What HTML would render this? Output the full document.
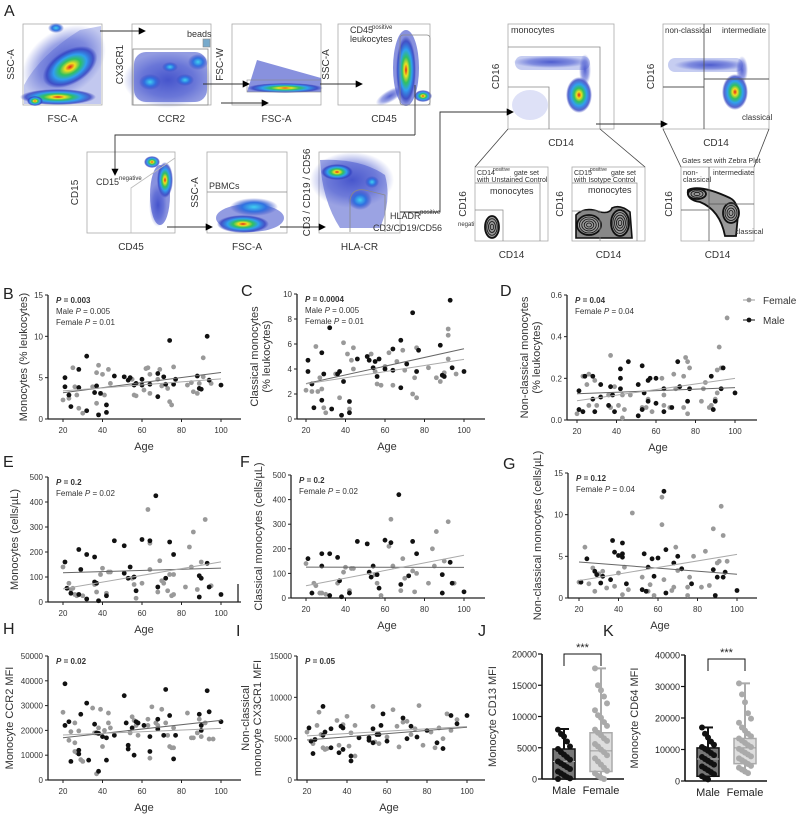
<!DOCTYPE html>
<html><head><meta charset="utf-8">
<style>
html,body{margin:0;padding:0;background:#fff;}
svg{display:block;font-family:"Liberation Sans",Arial,sans-serif;}
</style></head>
<body>
<svg id="fig" width="798" height="816" viewBox="0 0 798 816" xmlns="http://www.w3.org/2000/svg">
<defs>
<radialGradient id="heat" cx="50%" cy="50%" r="50%">
<stop offset="0" stop-color="#e0201a"/><stop offset="0.18" stop-color="#f0e020"/><stop offset="0.38" stop-color="#30c060"/><stop offset="0.6" stop-color="#30a0f0"/><stop offset="0.85" stop-color="#3040c0" stop-opacity="0.8"/><stop offset="1" stop-color="#3040c0" stop-opacity="0"/>
</radialGradient>
<radialGradient id="cool" cx="50%" cy="50%" r="50%">
<stop offset="0" stop-color="#40d0f0"/><stop offset="0.5" stop-color="#3070e0"/><stop offset="1" stop-color="#3040c0" stop-opacity="0"/>
</radialGradient>
<radialGradient id="haze" cx="50%" cy="50%" r="50%">
<stop offset="0" stop-color="#3848c8" stop-opacity="0.85"/><stop offset="0.6" stop-color="#4858d0" stop-opacity="0.55"/><stop offset="1" stop-color="#5060d0" stop-opacity="0"/>
</radialGradient>
<marker id="arr" markerWidth="8" markerHeight="8" refX="7" refY="4" orient="auto"><path d="M0,0 L8,4 L0,8 z" fill="#000"/></marker>
</defs>
<g id="panelA"></g>
<g id="charts"></g>
</svg>
<script>
// ---------- data ----------
const bMale=[[21,3.9],[21,5.0],[23,2.9],[24,1.5],[28,3.8],[28,6.0],[32,1.0],[32,7.6],[36,3.2],[37,4.0],[38,0.5],[39,3.1],[42,1.7],[42,0.8],[46,5.2],[51,5.1],[53,4.7],[54,5.0],[56,4.1],[57,4.3],[60,4.8],[60,4.1],[64,4.2],[68,2.7],[68,5.5],[71,5.1],[72,4.2],[74,9.5],[76,4.2],[77,4.8],[88,5.2],[89,3.7],[90,3.6],[93,10.0],[94,4.7],[100,4.1]];
const bFemale=[[20,2.3],[23,2.9],[23,2.5],[25,6.2],[26,3.9],[27,2.9],[28,1.3],[30,0.7],[35,3.9],[37,5.6],[37,1.9],[38,6.5],[40,5.4],[41,2.9],[43,6.0],[44,4.3],[55,4.8],[56,2.9],[57,2.8],[61,3.5],[62,6.1],[63,6.2],[64,5.4],[64,3.1],[68,4.8],[69,6.0],[70,4.0],[73,3.7],[74,2.1],[75,1.7],[76,6.3],[83,4.1],[85,4.4],[86,3.3],[88,3.1],[89,4.3],[91,7.4],[91,5.1],[95,4.3]];
const cMale=[[21,4.7],[21,3.8],[23,2.8],[24,0.9],[28,5.3],[28,1.5],[29,3.6],[32,7.3],[33,0.8],[36,3.6],[37,3.8],[38,0.3],[39,3.0],[42,1.4],[42,0.5],[46,4.8],[51,5.0],[52,4.7],[54,4.1],[55,4.6],[56,3.4],[57,4.8],[60,4.0],[64,5.6],[64,3.9],[68,6.3],[68,2.5],[71,4.4],[74,8.5],[76,3.8],[77,5.5],[88,5.9],[89,3.5],[90,3.4],[93,9.5],[94,4.1],[100,3.8]];
const cFemale=[[20,2.3],[23,2.2],[25,5.8],[26,2.2],[27,3.3],[28,2.4],[29,0.9],[30,0.5],[35,3.6],[37,1.7],[39,6.1],[41,5.2],[42,0.8],[43,4.7],[44,5.7],[44,4.0],[53,5.2],[55,3.8],[56,2.8],[58,2.7],[60,4.2],[62,5.3],[64,2.7],[66,4.6],[69,5.5],[70,3.9],[74,2.0],[75,3.3],[76,1.7],[76,5.7],[82,4.1],[86,3.3],[88,3.0],[90,3.7],[92,7.2],[92,6.7],[92,4.8],[96,3.6]];
const dMale=[[21,0.14],[21,0.05],[23,0.04],[24,0.21],[28,0.21],[28,0.10],[29,0.04],[32,0.17],[32,0.11],[36,0.07],[37,0.16],[38,0.12],[39,0.04],[42,0.245],[42,0.20],[42,0.15],[46,0.28],[51,0.02],[51,0.17],[53,0.05],[53,0.26],[54,0.13],[56,0.09],[56,0.19],[57,0.20],[60,0.20],[60,0.08],[64,0.15],[64,0.04],[68,0.06],[71,0.28],[72,0.16],[76,0.09],[77,0.15],[88,0.21],[89,0.05],[90,0.09],[93,0.15],[94,0.25],[100,0.13]];
const dFemale=[[20,0.03],[23,0.21],[25,0.17],[26,0.22],[26,0.07],[29,0.19],[30,0.07],[36,0.12],[37,0.31],[37,0.06],[39,0.16],[41,0.07],[43,0.12],[43,0.01],[44,0.05],[47,0.12],[53,0.06],[55,0.06],[56,0.10],[58,0.04],[63,0.20],[64,0.12],[64,0.07],[67,0.06],[69,0.22],[70,0.15],[74,0.21],[74,0.06],[75,0.30],[76,0.28],[76,0.03],[77,0.25],[83,0.09],[84,0.15],[85,0.18],[87,0.06],[88,0.07],[90,0.10],[91,0.24],[91,0.13],[92,0.35],[93,0.25],[96,0.49]];
const eMale=[[21,160],[22,55],[24,35],[28,210],[28,30],[29,130],[32,190],[32,12],[36,180],[36,80],[37,75],[38,5],[42,25],[46,245],[51,225],[51,115],[53,95],[54,140],[56,100],[57,45],[60,250],[64,245],[67,425],[68,60],[72,95],[74,240],[76,190],[89,20],[89,105],[90,95],[93,155],[94,60],[100,30]];
const eFemale=[[20,140],[23,75],[24,50],[25,55],[26,30],[27,25],[28,30],[30,25],[36,70],[37,40],[39,110],[40,135],[42,35],[43,120],[44,120],[55,95],[56,70],[57,15],[60,75],[63,370],[64,235],[64,130],[68,40],[69,165],[70,85],[71,75],[73,45],[74,110],[75,25],[76,30],[76,110],[82,60],[84,220],[85,140],[86,280],[88,50],[90,160],[92,330],[95,65]];
const fMale=[[21,160],[23,20],[28,180],[28,130],[32,180],[32,10],[36,165],[37,70],[38,5],[42,20],[46,230],[51,220],[52,105],[53,85],[54,130],[56,95],[57,40],[60,235],[63,225],[67,420],[68,55],[72,90],[74,230],[76,180],[89,20],[89,95],[93,145],[94,60],[100,25]];
const fFemale=[[20,140],[24,60],[25,50],[27,20],[28,20],[30,15],[36,60],[39,105],[40,125],[42,30],[43,120],[44,120],[55,95],[56,60],[58,10],[62,210],[63,320],[64,130],[68,30],[69,160],[70,80],[74,110],[75,25],[76,100],[82,60],[84,200],[85,130],[86,270],[90,150],[92,310],[95,60]];
const gMale=[[21,1.9],[24,4.7],[28,3.2],[29,2.8],[31,1.8],[32,2.6],[36,2.2],[37,6.9],[38,5.5],[40,5.1],[42,6.6],[42,5.3],[42,4.9],[44,1.7],[52,1.0],[53,5.3],[54,0.8],[55,3.7],[57,4.7],[58,2.6],[60,4.8],[63,12.8],[64,5.8],[64,0.6],[68,4.2],[70,5.0],[72,3.5],[77,1.7],[88,3.4],[89,0.3],[90,2.5],[93,2.5],[94,3.1],[100,0.9]];
const gFemale=[[20,1.9],[23,6.1],[25,1.7],[27,3.6],[28,0.8],[30,2.9],[32,3.2],[34,1.2],[38,1.4],[40,3.0],[42,0.4],[43,3.7],[45,1.0],[47,10.2],[52,2.5],[55,0.8],[56,1.6],[58,0.3],[62,12.1],[62,8.8],[63,2.2],[67,0.9],[68,1.3],[69,6.1],[70,3.3],[75,1.3],[75,0.3],[76,2.5],[78,5.0],[82,1.3],[84,5.6],[86,1.5],[88,8.3],[90,4.2],[91,4.4],[92,11.0],[93,7.5],[95,4.4]];
const hMale=[[21,38800],[21,22000],[23,23500],[24,7500],[28,12000],[28,10500],[29,26500],[32,31000],[33,8000],[36,22500],[37,19000],[38,18800],[38,3500],[40,17500],[42,17000],[42,8000],[46,18000],[51,34000],[52,23000],[53,14000],[53,12500],[55,21000],[56,10000],[57,23500],[58,23000],[61,22000],[64,17500],[64,11500],[68,24500],[68,20500],[71,18000],[72,36500],[74,26000],[76,8500],[77,18000],[89,26500],[90,22000],[90,20000],[93,36000],[94,27500],[100,23500]];
const hFemale=[[20,27300],[23,16000],[24,19500],[26,23000],[26,15000],[26,11500],[27,11000],[28,19800],[29,8200],[30,7500],[35,29000],[36,19000],[37,2500],[38,21000],[39,28500],[40,13500],[41,20000],[43,27000],[43,23000],[44,21000],[54,19000],[55,25500],[56,24000],[57,22000],[58,18000],[63,24500],[63,22000],[64,8800],[65,29500],[67,23000],[68,22000],[70,28500],[72,23000],[73,18000],[74,13500],[75,13000],[76,13000],[76,21000],[83,27000],[85,17000],[86,17000],[88,19000],[89,24500],[90,17500],[92,23000],[94,16500],[96,16500]];
const iMale=[[21,6300],[22,4700],[23,3200],[24,4900],[28,5400],[28,8900],[29,5800],[32,6200],[32,3900],[36,3300],[37,6500],[38,3700],[38,6300],[42,2900],[42,2300],[46,5100],[51,5100],[51,4800],[53,6200],[53,4500],[55,5500],[56,5500],[57,6600],[58,8000],[60,4700],[68,7500],[70,5000],[72,6500],[75,5200],[80,6000],[85,4500],[88,3800],[92,7800],[95,6800],[100,7800]];
const iFemale=[[20,5800],[23,4400],[25,6600],[26,8200],[27,5500],[28,3900],[29,3700],[30,3800],[35,7200],[36,4200],[38,6700],[40,7700],[41,4100],[42,5700],[44,6600],[44,2900],[53,8900],[54,4600],[56,4400],[60,5200],[63,8500],[65,6500],[66,4000],[68,7000],[70,7100],[72,5500],[74,6200],[76,9000],[78,4200],[82,5800],[84,3900],[86,6300],[88,5000],[90,8000],[92,6000],[95,7300]];
const ageTicks=[20,40,60,80,100];
// box plots: [min,q1,median,q3,max]
const jMaleBox=[0,0,2800,4800,8000];
const jFemaleBox=[0,1200,4500,7400,17700];
const kMaleBox=[500,1500,7000,10500,17000];
const kFemaleBox=[2500,5500,10500,13500,31000];
const jMalePts=[7900,7200,6800,6000,5200,4800,4300,3900,3500,3100,2800,2500,2200,1900,1600,1200,900,600,300,100,0];
const jFemalePts=[17700,15000,14200,13200,12100,11000,10200,9800,9100,8500,7900,7400,7000,6500,6100,5600,5200,4700,4300,3800,3300,2800,2300,1800,1300,900,500,200,0];
const kMalePts=[17000,15000,13800,12500,11500,10800,10200,9600,8900,8200,7600,7000,6400,5800,5200,4600,4000,3400,2800,2200,1500,900,500];
const kFemalePts=[31000,27500,25000,21500,19800,18500,17000,16000,15000,14200,13500,12800,12100,11400,10800,10200,9600,9000,8400,7800,7200,6600,6000,5400,4800,4200,3600,3000,2500];

const NS="http://www.w3.org/2000/svg";
const root=document.getElementById('charts');
function mk(tag,attrs,parent,txt){const e=document.createElementNS(NS,tag);for(const k in attrs)e.setAttribute(k,attrs[k]);if(txt!==undefined)e.textContent=txt;(parent||root).appendChild(e);return e;}
function fit(pts){let n=pts.length,sx=0,sy=0,sxx=0,sxy=0;pts.forEach(p=>{sx+=p[0];sy+=p[1];sxx+=p[0]*p[0];sxy+=p[0]*p[1];});const b=(n*sxy-sx*sy)/(n*sxx-sx*sx);return [b,(sy-b*sx)/n];}

function scatter(c){
  const g=mk('g',{});
  
  
  const X=v=>c.x0+(v-20)*(c.x1-c.x0)/80;
  const Y=v=>c.y0-(v-c.ymin)*(c.y0-c.y1)/(c.ymax-c.ymin);
  const ya=mk('line',{x1:c.ax,y1:c.y1,x2:c.ax,y2:c.y0,stroke:'#222','stroke-width':1.3},g);
  
  const xa=mk('line',{x1:c.ax,y1:c.y0,x2:c.axEnd,y2:c.y0,stroke:'#222','stroke-width':1.3},g);
  
  c.yt.forEach((t,i)=>{const y=Y(t);mk('line',{x1:c.ax-3,y1:y,x2:c.ax,y2:y,stroke:'#222'},g);
    const tl=mk('text',{x:c.ax-5,y:y+3,'font-size':8,'text-anchor':'end',fill:'#333'},g,c.ytl?c.ytl[i]:t);
    });
  ageTicks.forEach(t=>{const x=X(t);mk('line',{x1:x,y1:c.y0,x2:x,y2:c.y0+3,stroke:'#222'},g);
    const tl=mk('text',{x:x,y:c.y0+14,'font-size':8,'text-anchor':'middle',fill:'#333'},g,t);
    });
  const xt=mk('text',{x:(c.x0+c.x1)/2+2,y:c.y0+31,'font-size':11,'text-anchor':'middle',fill:'#333'},g,'Age');
  
  c.ytitle.forEach((s,i)=>{const cy=(c.y0+c.y1)/2;const tx=c.tx+i*12;
    const t=mk('text',{x:tx,y:cy,'font-size':11,'text-anchor':'middle',fill:'#333',transform:`rotate(-90 ${tx} ${cy})`},g,s);
    });
  c.stats.forEach((s,i)=>{const t=mk('text',{x:c.ax+8,y:c.y1+8+i*11,'font-size':8,fill:'#333','font-weight':i===0?'bold':'normal'},g);
    t.innerHTML=s;});
  [[c.f,'#999','female-point'],[c.m,'#111','male-point']].forEach(([arr,col,nm])=>{
    arr.forEach(p=>{const d=mk('circle',{cx:X(p[0]),cy:Y(p[1]),r:2.4,fill:col},g);
      });});
  [[c.m,'#666','male-trend-line'],[c.f,'#aaa','female-trend-line']].forEach(([arr,col,nm])=>{
    const [b,a]=fit(arr);const l=mk('line',{x1:X(20),y1:Y(a+b*20),x2:X(100),y2:Y(a+b*100),stroke:col,'stroke-width':1},g);
    });
  return g;
}
const it='<tspan font-style="italic">P</tspan>';
scatter({name:'panel-b-chart',m:bMale,f:bFemale,ax:48,axEnd:241,x0:63,x1:221,y0:419,y1:295,ymin:0,ymax:15,yt:[0,5,10,15],tx:27,ytitle:['Monocytes (% leukocytes)'],stats:[it+' = 0.003','Male '+it+' = 0.005','Female '+it+' = 0.01']});
scatter({name:'panel-c-chart',m:cMale,f:cFemale,ax:297,axEnd:485,x0:306,x1:464,y0:419,y1:294,ymin:0,ymax:10,yt:[0,2,4,6,8,10],tx:258,ytitle:['Classical  monocytes','(% leukocytes)'],stats:[it+' = 0.0004','Male '+it+' = 0.005','Female '+it+' = 0.01']});
scatter({name:'panel-d-chart',m:dMale,f:dFemale,ax:567,axEnd:757,x0:577,x1:735,y0:420,y1:295,ymin:0,ymax:0.6,yt:[0,0.2,0.4,0.6],ytl:['0.0','0.2','0.4','0.6'],tx:528,ytitle:['Non-classical monocytes','(% leukocytes)'],stats:[it+' = 0.04','Female '+it+' = 0.04']});
scatter({name:'panel-e-chart',m:eMale,f:eFemale,ax:48,axEnd:241,x0:63,x1:221,y0:602,y1:477,ymin:0,ymax:500,yt:[0,100,200,300,400,500],tx:18,ytitle:['Monocytes (cells/µL)'],stats:[it+' = 0.2','Female '+it+' = 0.02']});
scatter({name:'panel-f-chart',m:fMale,f:fFemale,ax:291,axEnd:485,x0:306,x1:464,y0:598,y1:475,ymin:0,ymax:500,yt:[0,100,200,300,400,500],tx:262,ytitle:['Classical monocytes (cells/µL)'],stats:[it+' = 0.2','Female '+it+' = 0.02']});
scatter({name:'panel-g-chart',m:gMale,f:gFemale,ax:568,axEnd:757,x0:579,x1:737,y0:598,y1:473,ymin:0,ymax:15,yt:[0,5,10,15],tx:541,ytitle:['Non-classical monocytes (cells/µL)'],stats:[it+' = 0.12','Female '+it+' = 0.04']});
scatter({name:'panel-h-chart',m:hMale,f:hFemale,ax:48,axEnd:241,x0:63,x1:221,y0:780,y1:656,ymin:0,ymax:50000,yt:[0,10000,20000,30000,40000,50000],tx:13,ytitle:['Monocyte CCR2 MFI'],stats:[it+' = 0.02']});
scatter({name:'panel-i-chart',m:iMale,f:iFemale,ax:297,axEnd:485,x0:307,x1:467,y0:780,y1:656,ymin:0,ymax:15000,yt:[0,5000,10000,15000],tx:249,ytitle:['Non-classical','monocyte CX3CR1 MFI'],stats:[it+' = 0.05']});
mk('line',{x1:238,y1:584,x2:238,y2:602,stroke:'#222','stroke-width':1.3});

const lg=mk('g',{});


[['Female','#999',300],['Male','#111',320]].forEach(([n,col,y])=>{
  const e=mk('g',{},lg);
  
  
  mk('line',{x1:743,y1:y,x2:755,y2:y,stroke:col,'stroke-width':1},e);
  mk('circle',{cx:749,cy:y,r:2.4,fill:col},e);
  mk('text',{x:763,y:y+4,'font-size':10,fill:'#333'},e,n);
});

function boxplot(c){
  const g=mk('g',{});
  
  
  const Y=v=>c.y0-v*(c.y0-c.y1)/c.ymax;
  mk('line',{x1:c.ax,y1:c.y1,x2:c.ax,y2:c.y0,stroke:'#111','stroke-width':1.6},g);
  mk('line',{x1:c.ax,y1:c.y0,x2:c.ax+82,y2:c.y0,stroke:'#111','stroke-width':1.6},g);
  c.yt.forEach(t=>{const y=Y(t);mk('line',{x1:c.ax-4,y1:y,x2:c.ax,y2:y,stroke:'#111','stroke-width':1.2},g);
    const tl=mk('text',{x:c.ax-5,y:y+3.5,'font-size':9,'text-anchor':'end',fill:'#222'},g,t);
    });
  const cy=(c.y0+c.y1)/2;
  const t=mk('text',{x:c.tx,y:cy,'font-size':11,'text-anchor':'middle',fill:'#333',transform:`rotate(-90 ${c.tx} ${cy})`},g,c.title);
  
  [[c.male,c.malePts,c.cx[0],'#777','#111','#111','Male'],[c.female,c.femalePts,c.cx[1],'#ddd','#aaa','#aaa','Female']].forEach(([b,pts,x,fill,stroke,pc,lbl])=>{
    const bg=mk('g',{},g);
    
    
    mk('line',{x1:x,y1:Y(b[4]),x2:x,y2:Y(b[0]),stroke:stroke,'stroke-width':2},bg);
    mk('line',{x1:x-5,y1:Y(b[4]),x2:x+5,y2:Y(b[4]),stroke:stroke,'stroke-width':2},bg);
    mk('rect',{x:x-11,y:Y(b[3]),width:22,height:Y(b[1])-Y(b[3]),fill:fill,stroke:stroke,'stroke-width':1.5},bg);
    mk('line',{x1:x-11,y1:Y(b[2]),x2:x+11,y2:Y(b[2]),stroke:stroke==='#111'?'#aaa':'#999','stroke-width':1},bg);
    pts.forEach((v,i)=>{const d=mk('circle',{cx:x+((i%5)-2)*3,cy:Y(v),r:3,fill:pc},bg);
      });
    const l=mk('text',{x:x,y:c.y0+15,'font-size':11,'text-anchor':'middle',fill:'#222'},g,lbl);
    
  });
  const by=c.sigY;
  mk('path',{d:`M${c.cx[0]},${by+12} V${by} H${c.cx[1]} V${by+12}`,fill:'none',stroke:'#111','stroke-width':1},g);
  const s=mk('text',{x:(c.cx[0]+c.cx[1])/2,y:by-3,'font-size':11,'text-anchor':'middle',fill:'#222'},g,'***');
  
}
boxplot({name:'panel-j-chart',ax:542,y0:779,y1:654,ymax:20000,yt:[0,5000,10000,15000,20000],tx:496,title:'Monocyte CD13 MFI',male:jMaleBox,female:jFemaleBox,malePts:jMalePts,femalePts:jFemalePts,cx:[564,601],sigY:654});
boxplot({name:'panel-k-chart',ax:685,y0:781,y1:655,ymax:40000,yt:[0,10000,20000,30000,40000],tx:638,title:'Monocyte CD64 MFI',male:kMaleBox,female:kFemaleBox,malePts:kMalePts,femalePts:kFemalePts,cx:[708,745],sigY:659});

[['A',4,16],['B',3,299],['C',241,296],['D',500,296],['E',3,467],['F',240,467],['G',503,469],['H',3,634],['I',236,636],['J',478,636],['K',603,636]].forEach(([l,x,y])=>{
  const t=mk('text',{x:x,y:y,'font-size':16,fill:'#222'},root,l);
  
});

// ---------- panel A ----------
const A=document.getElementById('panelA');
function plot(x1,y1,x2,y2,xl,yl,name){
  const g=mk('g',{},A);
  
  
  mk('rect',{x:x1,y:y1,width:x2-x1,height:y2-y1,fill:'#fff',stroke:'#aaa','stroke-width':0.8},g);
  mk('text',{x:(x1+x2)/2,y:y2+17,'font-size':10,'text-anchor':'middle',fill:'#333'},g,xl);
  const cy=(y1+y2)/2,tx=x1-9;
  mk('text',{x:tx,y:cy,'font-size':10,'text-anchor':'middle',fill:'#333',transform:`rotate(-90 ${tx} ${cy})`},g,yl);
  return g;
}
function blob(g,cx,cy,rx,ry,rot,grad){mk('ellipse',{cx:cx,cy:cy,rx:rx,ry:ry,fill:`url(#${grad||'heat'})`,transform:`rotate(${rot||0} ${cx} ${cy})`},g);}
let g;
g=plot(23,24,102,105,'FSC-A','SSC-A','flow-plot-fsc-ssc');
mk('path',{d:'M24,104 L24,85 Q40,55 80,30 L101,26 L101,104 Z',fill:'#5060d0',opacity:0.35},g);
blob(g,64,62,46,32,-35,'haze');blob(g,70,67,30,17,-30);blob(g,58,97,38,8,0);blob(g,35,101,8,5,0);blob(g,56,28,8,5,0,'cool');
g=plot(132,24,211,105,'CCR2','CX3CR1','flow-plot-ccr2-cx3cr1');
mk('rect',{x:134,y:52,width:73,height:50,rx:12,fill:'#3848c8',opacity:0.55},g);
blob(g,168,80,45,28,0,'haze');blob(g,150,82,11,8,0,'cool');blob(g,170,67,8,5,0,'cool');blob(g,185,80,9,6,0,'cool');blob(g,198,62,10,8,0,'cool');
mk('rect',{x:133,y:49,width:75,height:56,fill:'none',stroke:'#888','stroke-width':0.8},g);
mk('rect',{x:203,y:39,width:7,height:8,fill:'#7ac',stroke:'#888','stroke-width':0.6},g);
mk('text',{x:187,y:37,'font-size':9,fill:'#333'},g,'beads');
g=plot(232,24,321,105,'FSC-A','FSC-W','flow-plot-fsc-fscw');
mk('path',{d:'M247,92 L257,60 L321,78 L321,92 Z',fill:'#3848c8',opacity:0.6},g);blob(g,285,88,38,5,0);
mk('rect',{x:247,y:80,width:74,height:12,fill:'none',stroke:'#888','stroke-width':0.6},g);
g=plot(338,24,430,105,'CD45','SSC-A','flow-plot-cd45-ssc');
mk('ellipse',{cx:406,cy:68,rx:13,ry:38,fill:'#3848c8',opacity:0.6},g);
blob(g,406,70,10,34,0);blob(g,423,96,9,6,0);blob(g,390,96,16,6,-30,'haze');
mk('text',{x:350,y:33,'font-size':9,fill:'#333'},g,'CD45');mk('text',{x:372,y:29,'font-size':6,fill:'#333'},g,'positive');
mk('text',{x:350,y:42,'font-size':9,fill:'#333'},g,'leukocytes');
mk('rect',{x:400,y:35,width:30,height:70,rx:3,fill:'none',stroke:'#888','stroke-width':0.8},g);
g=plot(87,152,175,233,'CD45','CD15','flow-plot-cd45-cd15');
mk('ellipse',{cx:160,cy:195,rx:10,ry:30,fill:'#3848c8',opacity:0.6},g);
blob(g,152,162,8,6,0);blob(g,165,180,8,18,0);blob(g,158,205,9,22,0,'haze');
mk('path',{d:'M131,233 L131,188 L175,158',fill:'none',stroke:'#bbb','stroke-width':0.8},g);
mk('text',{x:96,y:185,'font-size':9,fill:'#333'},g,'CD15');mk('text',{x:119,y:180,'font-size':6,fill:'#333'},g,'negative');
g=plot(207,152,287,233,'FSC-A','SSC-A','flow-plot-pbmcs');
mk('ellipse',{cx:250,cy:218,rx:34,ry:14,fill:'#3848c8',opacity:0.55},g);
blob(g,243,224,26,9,0);blob(g,254,207,24,9,0,'cool');
mk('line',{x1:207,y1:192,x2:287,y2:192,stroke:'#888','stroke-width':0.8},g);
mk('text',{x:209,y:189,'font-size':9,fill:'#333'},g,'PBMCs');
g=plot(319,152,400,233,'HLA-CR','CD3 / CD19 / CD56','flow-plot-hladr');
mk('path',{d:'M320,160 Q360,158 385,175 Q392,200 380,228 L340,228 Q322,200 320,160 Z',fill:'#3848c8',opacity:0.5},g);
blob(g,352,180,42,28,0,'haze');blob(g,337,172,16,8,0);blob(g,360,200,12,10,0,'cool');blob(g,372,182,7,6,0,'cool');
mk('path',{d:'M350,232 V200 Q352,188 365,190 L385,195 V232',fill:'none',stroke:'#888','stroke-width':0.8},g);
mk('text',{x:390,y:219,'font-size':9,fill:'#333'},A,'HLADR');mk('text',{x:420,y:214,'font-size':6,fill:'#333'},A,'positive');
mk('text',{x:373,y:231,'font-size':9,fill:'#333'},A,'CD3/CD19/CD56');mk('text',{x:458,y:226,'font-size':6,fill:'#333'},A,'negative');
g=plot(508,24,614,129,'CD14','CD16','flow-plot-monocytes');
mk('rect',{x:515,y:56,width:75,height:14,rx:7,fill:'#8090e0',opacity:0.45},g);
mk('ellipse',{cx:530,cy:105,rx:18,ry:15,fill:'#a0a8e8',opacity:0.35},g);
blob(g,551,62,38,6,0,'haze');blob(g,579,95,13,18,0);blob(g,585,70,6,16,0,'haze');
mk('path',{d:'M508,47 H600 V129',fill:'none',stroke:'#888','stroke-width':0.8},g);
mk('path',{d:'M508,87 H549 V129',fill:'none',stroke:'#888','stroke-width':0.8},g);
mk('text',{x:511,y:33,'font-size':9,fill:'#333'},g,'monocytes');
g=plot(663,24,769,129,'CD14','CD16','flow-plot-subsets');
mk('rect',{x:668,y:58,width:75,height:14,rx:7,fill:'#8090e0',opacity:0.45},g);
blob(g,710,65,36,6,0,'haze');blob(g,735,92,13,18,0);blob(g,742,70,6,14,0,'haze');
mk('line',{x1:704,y1:24,x2:704,y2:129,stroke:'#555','stroke-width':0.9},g);
mk('line',{x1:704,y1:79,x2:769,y2:79,stroke:'#555','stroke-width':0.9},g);
mk('line',{x1:663,y1:87,x2:704,y2:87,stroke:'#555','stroke-width':0.9},g);
mk('text',{x:665,y:33,'font-size':8,fill:'#333'},g,'non-classical');mk('text',{x:722,y:33,'font-size':8,fill:'#333'},g,'intermediate');
mk('text',{x:742,y:120,'font-size':8,fill:'#333'},g,'classical');
function contour(g,cx,cy,rx,ry,n){for(let i=0;i<n;i++){mk('ellipse',{cx:cx,cy:cy,rx:rx*(1-i/n),ry:ry*(1-i/n),fill:i===0?'#999':'none',stroke:'#111','stroke-width':i===0?1.8:0.8},g);}}
g=plot(475,167,548,241,'CD14','CD16','contour-unstained-control');
contour(g,492,227,7,11,4);
mk('path',{d:'M475,210 H503 V241',fill:'none',stroke:'#888','stroke-width':0.7},g);mk('path',{d:'M475,183 H540 V241',fill:'none',stroke:'#888','stroke-width':0.7},g);
mk('text',{x:477,y:175,'font-size':7,fill:'#333'},g,'CD14');mk('text',{x:493,y:171,'font-size':5,fill:'#333'},g,'positive');mk('text',{x:514,y:175,'font-size':7,fill:'#333'},g,'gate set');
mk('text',{x:477,y:182,'font-size':7,fill:'#333'},g,'with Unstained Control');mk('text',{x:490,y:194,'font-size':9,fill:'#333'},g,'monocytes');
g=plot(572,167,645,241,'CD14','CD16','contour-isotype-control');
mk('path',{d:'M576,238 L576,215 Q585,206 600,212 Q610,214 612,208 Q620,204 630,212 L632,238 Z',fill:'#888',stroke:'#111','stroke-width':1.6},g);
contour(g,589,225,12,10,5);contour(g,620,223,9,13,5);
mk('path',{d:'M572,211 H600 V241',fill:'none',stroke:'#888','stroke-width':0.7},g);mk('path',{d:'M572,183 H637 V241',fill:'none',stroke:'#888','stroke-width':0.7},g);
mk('text',{x:574,y:175,'font-size':7,fill:'#333'},g,'CD15');mk('text',{x:590,y:171,'font-size':5,fill:'#333'},g,'positive');mk('text',{x:611,y:175,'font-size':7,fill:'#333'},g,'gate set');
mk('text',{x:574,y:182,'font-size':7,fill:'#333'},g,'with Isotype Control');mk('text',{x:588,y:193,'font-size':9,fill:'#333'},g,'monocytes');
g=plot(681,167,754,241,'CD14','CD16','contour-zebra-plot');
mk('path',{d:'M688,190 Q700,184 730,198 Q738,202 738,215 L736,236 L725,236 Q720,210 700,202 Q686,200 688,190 Z',fill:'#999',stroke:'#111','stroke-width':1.8},g);
contour(g,731,213,8,10,4);contour(g,697,194,9,5,3);
mk('line',{x1:709,y1:167,x2:709,y2:241,stroke:'#555','stroke-width':0.8},g);mk('line',{x1:709,y1:204,x2:754,y2:204,stroke:'#555','stroke-width':0.8},g);mk('line',{x1:681,y1:210,x2:709,y2:210,stroke:'#555','stroke-width':0.8},g);
mk('text',{x:682,y:163,'font-size':7,fill:'#333'},A,'Gates set with Zebra Plot');
mk('text',{x:683,y:175,'font-size':7.5,fill:'#333'},g,'non-');mk('text',{x:683,y:182,'font-size':7.5,fill:'#333'},g,'classical');
mk('text',{x:713,y:175,'font-size':7.5,fill:'#333'},g,'intermediate');mk('text',{x:735,y:234,'font-size':7.5,fill:'#333'},g,'classical');
mk('path',{d:'M508,129 L475,167 M600,129 L645,167 M663,129 L681,167 M769,129 L754,167',stroke:'#444','stroke-width':0.8,fill:'none'},A);
[['M100,31 L145,31'],['M203,84 L249,84'],['M221,103 L268,103'],['M320,84 L362,84'],['M415,135 L115,135 L115,175'],['M167,227 L212,227'],['M280,227 L325,227'],['M400,212 L440,212 L440,112 L513,112'],['M596,124 L667,124']].forEach(([d])=>{
  const p=mk('path',{d:d,stroke:'#333','stroke-width':0.9,fill:'none','marker-end':'url(#arr)'},A);
  
});
mk('path',{d:'M415,85 L415,135',stroke:'#333','stroke-width':0.9,fill:'none'},A);
</script>
</body></html>
